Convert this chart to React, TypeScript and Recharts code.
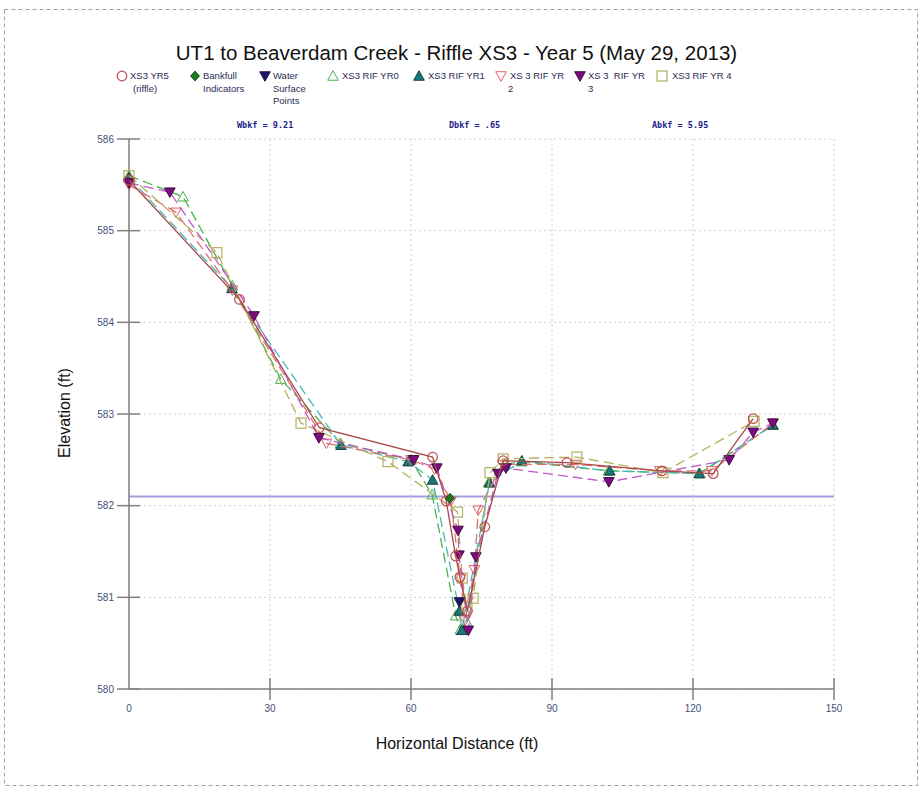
import React from 'react';
import {
  ComposedChart,
  Scatter,
  XAxis,
  YAxis,
  CartesianGrid,
  ReferenceLine,
} from 'recharts';

// cross-section survey points: distance (ft) / elevation (ft)
const distYR5 = [0, 23.5, 40.5, 64.6, 67.5, 69.5, 70.4, 72, 75.7, 79.6, 93.2, 113.4, 124.3, 132.8];
const elevYR5 = [585.55, 584.25, 582.85, 582.53, 582.05, 581.45, 581.22, 580.85, 581.77, 582.49, 582.47, 582.38, 582.35, 582.95];

const distBankfull = [68.3];
const elevBankfull = [582.08];

const distWater = [70.3];
const elevWater = [580.95];

const distYR0 = [0, 11.5, 22, 32.3, 45, 60, 64.5, 69.5, 70.5, 72, 76.5, 80, 83.5, 102, 121.5, 137];
const elevYR0 = [585.6, 585.37, 584.4, 583.38, 582.68, 582.5, 582.12, 580.8, 580.65, 580.72, 582.25, 582.45, 582.48, 582.38, 582.35, 582.88];

const distYR1 = [0, 21.9, 45.1, 59.4, 64.6, 70.3, 70.8, 76.7, 83.6, 102.3, 121.3, 137];
const elevYR1 = [585.58, 584.37, 582.66, 582.48, 582.28, 580.85, 580.64, 582.25, 582.49, 582.38, 582.35, 582.88];

const distYR2 = [0, 10, 22, 42, 60, 65, 68.5, 70.5, 71.5, 73.5, 74.3, 79.5, 95, 113, 124, 137];
const elevYR2 = [585.5, 585.2, 584.35, 582.68, 582.5, 582.4, 582.05, 581.2, 580.75, 581.3, 581.95, 582.45, 582.45, 582.38, 582.38, 582.9];

const distYR3 = [0, 8.7, 26.6, 40.4, 60.6, 65.5, 70, 70.2, 72.2, 73.8, 78.5, 80.2, 102.1, 127.7, 132.8, 137];
const elevYR3 = [585.52, 585.42, 584.07, 582.74, 582.5, 582.41, 581.73, 581.46, 580.64, 581.44, 582.35, 582.41, 582.26, 582.5, 582.8, 582.9];

const distYR4 = [0, 18.7, 36.6, 55.1, 69.9, 70.9, 71.9, 73.2, 76.8, 79.6, 95.3, 113.6, 133];
const elevYR4 = [585.6, 584.76, 582.9, 582.48, 581.93, 581.21, 580.9, 580.99, 582.36, 582.51, 582.53, 582.36, 582.92];

const xTicks = [0, 30, 60, 90, 120, 150];
const yTicks = [580, 581, 582, 583, 584, 585, 586];
const bankfullElev = 582.1;

const bkfStats = ['Wbkf = 9.21', 'Dbkf = .65', 'Abkf = 5.95'];

const toPoints = (xs: number[], ys: number[]) => xs.map((x, i) => ({ x, y: ys[i] }));

type Kind = 'circle' | 'diamond' | 'triDownFill' | 'triUp' | 'triUpFill' | 'triDown' | 'square';

const Mark = ({ kind, cx, cy, color }: { kind: Kind; cx: number; cy: number; color: string }) => {
  const s = 5.3;
  switch (kind) {
    case 'circle':
      return <circle cx={cx} cy={cy} r={4.8} fill="none" stroke={color} strokeWidth={1.2} />;
    case 'diamond':
      return (
        <polygon
          points={`${cx},${cy - 5} ${cx + 4.5},${cy} ${cx},${cy + 5} ${cx - 4.5},${cy}`}
          fill={color}
          stroke="#0b3d0b"
          strokeWidth={0.8}
        />
      );
    case 'triUp':
    case 'triUpFill':
      return (
        <polygon
          points={`${cx},${cy - s} ${cx + s},${cy + s * 0.8} ${cx - s},${cy + s * 0.8}`}
          fill={kind === 'triUpFill' ? color : 'none'}
          stroke={kind === 'triUpFill' ? '#1f3b3b' : color}
          strokeWidth={1}
        />
      );
    case 'triDown':
    case 'triDownFill':
      return (
        <polygon
          points={`${cx - s},${cy - s * 0.8} ${cx + s},${cy - s * 0.8} ${cx},${cy + s}`}
          fill={kind === 'triDownFill' ? color : 'none'}
          stroke={kind === 'triDownFill' ? '#3a1040' : color}
          strokeWidth={1}
        />
      );
    case 'square':
      return <rect x={cx - 5} y={cy - 5} width={10} height={10} fill="none" stroke={color} strokeWidth={1.2} />;
  }
  return null;
};

const series = [
  { key: 'yr0', data: toPoints(distYR0, elevYR0), kind: 'triUp' as Kind, color: '#4cb04c', line: '#4cb04c', dash: '10 5' },
  { key: 'yr1', data: toPoints(distYR1, elevYR1), kind: 'triUpFill' as Kind, color: '#167a7a', line: '#48b8b8', dash: '10 5' },
  { key: 'yr2', data: toPoints(distYR2, elevYR2), kind: 'triDown' as Kind, color: '#e06060', line: '#e07070', dash: '10 5' },
  { key: 'yr4', data: toPoints(distYR4, elevYR4), kind: 'square' as Kind, color: '#b4b060', line: '#b4b060', dash: '10 5' },
  { key: 'yr3', data: toPoints(distYR3, elevYR3), kind: 'triDownFill' as Kind, color: '#7c0a80', line: '#c058c8', dash: '10 5' },
  { key: 'yr5', data: toPoints(distYR5, elevYR5), kind: 'circle' as Kind, color: '#c05050', line: '#a84848', dash: undefined },
  { key: 'bkf', data: toPoints(distBankfull, elevBankfull), kind: 'diamond' as Kind, color: '#1c7a1c', line: null, dash: undefined },
  { key: 'ws', data: toPoints(distWater, elevWater), kind: 'triDownFill' as Kind, color: '#16166a', line: null, dash: undefined },
];

const legendItems: { kind: Kind; color: string; mx: number; tx: number; lines: string[]; sub?: number }[] = [
  { kind: 'circle', color: '#c05050', mx: 122, tx: 130, lines: ['XS3 YR5', '(riffle)'], sub: 133 },
  { kind: 'diamond', color: '#1c7a1c', mx: 195, tx: 203, lines: ['Bankfull', 'Indicators'] },
  { kind: 'triDownFill', color: '#16166a', mx: 265, tx: 273, lines: ['Water', 'Surface', 'Points'] },
  { kind: 'triUp', color: '#4cb04c', mx: 333, tx: 342, lines: ['XS3 RIF YR0'] },
  { kind: 'triUpFill', color: '#167a7a', mx: 419, tx: 428, lines: ['XS3 RIF YR1'] },
  { kind: 'triDown', color: '#e06060', mx: 501, tx: 510, lines: ['XS 3 RIF YR', '2'], sub: 508 },
  { kind: 'triDownFill', color: '#7c0a80', mx: 580, tx: 588, lines: ['XS 3  RIF YR', '3'], sub: 588 },
  { kind: 'square', color: '#b4b060', mx: 662, tx: 672, lines: ['XS3 RIF YR 4'] },
];

const tickColor = '#46507a';

const YTick = (props: any) => {
  const { y, payload } = props;
  return (
    <g>
      <line x1={117} x2={140} y1={y} y2={y} stroke="#808080" strokeWidth={1.5} />
      <text x={114} y={y + 3.5} textAnchor="end" fontSize={10} fill={tickColor} fontFamily="Arial, 'Liberation Sans'">
        {payload.value}
      </text>
    </g>
  );
};

const XTick = (props: any) => {
  const { x, payload } = props;
  return (
    <g>
      {payload.value !== 0 && <line x1={x} x2={x} y1={678} y2={700} stroke="#808080" strokeWidth={1.5} />}
      <text x={x} y={712} textAnchor="middle" fontSize={10} fill={tickColor} fontFamily="Arial, 'Liberation Sans'">
        {payload.value}
      </text>
    </g>
  );
};

export default function App() {
  return (
    <div
      style={{
        position: 'absolute',
        left: 0,
        top: 0,
        width: 919,
        height: 796,
        background: '#fff',
        fontFamily: "Arial, 'Liberation Sans', sans-serif",
      }}
    >
      <svg width={919} height={796} style={{ position: 'absolute', left: 0, top: 0 }}>
        <rect x={4.5} y={9.5} width={913} height={776} fill="none" stroke="#a0a0a0" strokeDasharray="4 3" />
      </svg>

      <div
        style={{
          position: 'absolute',
          top: 41,
          left: 0,
          width: 913,
          textAlign: 'center',
          fontSize: 20.5,
          color: '#111',
          whiteSpace: 'nowrap',
        }}
      >
        UT1 to Beaverdam Creek - Riffle XS3 - Year 5 (May 29, 2013)
      </div>

      {legendItems.map((it, i) => (
        <div key={i}>
          <svg width={14} height={14} style={{ position: 'absolute', left: it.mx - 7, top: 69 }}>
            <Mark kind={it.kind} cx={7} cy={7} color={it.color} />
          </svg>
          {it.lines.map((t, j) => (
            <div
              key={j}
              style={{
                position: 'absolute',
                left: j > 0 && it.sub ? it.sub : it.tx,
                top: 70 + j * 12.5,
                fontSize: 9.5,
                color: '#2a2a55',
                whiteSpace: 'pre',
                lineHeight: '12px',
              }}
            >
              {t}
            </div>
          ))}
        </div>
      ))}

      {bkfStats.map((t, i) => (
        <div
          key={t}
          style={{
            position: 'absolute',
            left: [237, 449, 652][i],
            top: 120,
            fontSize: 8.5,
            fontWeight: 'bold',
            fontFamily: "'DejaVu Sans Mono', monospace",
            color: '#1c1c8c',
            whiteSpace: 'pre',
          }}
        >
          {t}
        </div>
      ))}

      <div style={{ position: 'absolute', left: 0, top: 0 }}>
        <ComposedChart width={919} height={796} margin={{ top: 139, right: 85, bottom: 77, left: 69 }}>
          <CartesianGrid stroke="#cfcfcf" strokeDasharray="2 3" />
          <XAxis
            type="number"
            dataKey="x"
            domain={[0, 150]}
            ticks={xTicks}
            height={30}
            axisLine={{ stroke: '#808080', strokeWidth: 1.5 }}
            tickLine={false}
            tick={<XTick />}
            interval={0}
          />
          <YAxis
            type="number"
            dataKey="y"
            domain={[580, 586]}
            ticks={yTicks}
            width={60}
            axisLine={{ stroke: '#808080', strokeWidth: 1.5 }}
            tickLine={false}
            tick={<YTick />}
            interval={0}
          />
          <ReferenceLine y={bankfullElev} stroke="#a0a0dc" strokeWidth={2} />
          {series.map((s) => (
            <Scatter
              key={s.key}
              data={s.data}
              isAnimationActive={false}
              line={s.line ? { stroke: s.line, strokeWidth: 1.3, strokeDasharray: s.dash } : false}
              lineType="joint"
              shape={(p: any) => <Mark kind={s.kind} cx={p.cx} cy={p.cy} color={s.color} />}
            />
          ))}
        </ComposedChart>
      </div>

      <div
        style={{
          position: 'absolute',
          left: 0,
          top: 735,
          width: 914,
          textAlign: 'center',
          fontSize: 16,
          color: '#111',
        }}
      >
        Horizontal Distance (ft)
      </div>
      <div
        style={{
          position: 'absolute',
          left: 65,
          top: 413,
          transform: 'translate(-50%, -50%) rotate(-90deg)',
          fontSize: 16,
          color: '#111',
          whiteSpace: 'nowrap',
        }}
      >
        Elevation (ft)
      </div>
    </div>
  );
}
